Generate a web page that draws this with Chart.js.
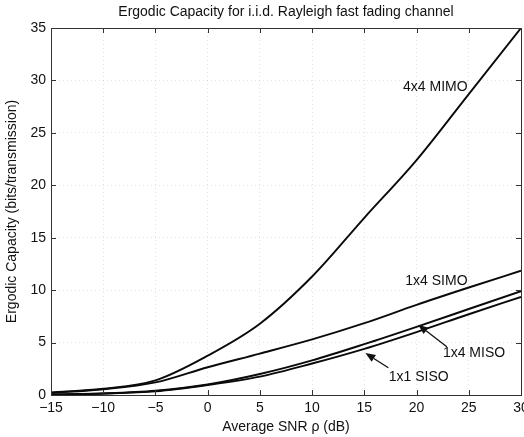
<!DOCTYPE html>
<html>
<head>
<meta charset="utf-8">
<script src="https://cdn.jsdelivr.net/npm/chart.js@4/dist/chart.umd.min.js"></script>
<style>
  html, body { margin: 0; padding: 0; background: #fff; overflow: hidden; }
  #wrap { width: 524px; height: 437px; position: relative; }
</style>
</head>
<body>
<div id="wrap"><canvas id="c" width="524" height="437"></canvas></div>
<script>
// ---- Data ----
const snrDb    = [-15, -10, -5, 0, 5, 10, 15, 20, 25, 30];
const mimo4x4  = [0.25, 0.6, 1.4, 3.75, 6.8, 11.3, 16.9, 22.4, 28.7, 35];
const simo1x4  = [0.2, 0.55, 1.2, 2.65, 3.95, 5.3, 6.85, 8.6, 10.25, 11.85];
const miso1x4  = [0.05, 0.15, 0.4, 1.0, 2.0, 3.3, 4.85, 6.5, 8.2, 9.9];
const siso1x1  = [0.05, 0.14, 0.35, 0.95, 1.75, 3.0, 4.4, 6.0, 7.7, 9.35];
const xTicks   = [-15, -10, -5, 0, 5, 10, 15, 20, 25, 30];
const yTicks   = [0, 5, 10, 15, 20, 25, 30, 35];
const titleText = 'Ergodic Capacity for i.i.d. Rayleigh fast fading channel';
const xLabel = 'Average SNR \u03C1 (dB)';
const yLabel = 'Ergodic Capacity (bits/transmission)';
// annotations: label text, label position, optional arrow (from -> tip), in data units
const notes = [
  { text: '4x4 MIMO', x: 21.8, y: 29.4 },
  { text: '1x4 SIMO', x: 21.9, y: 10.9 },
  { text: '1x4 MISO', x: 25.5, y: 4.0, from: [22.9, 4.6], to: [20.15, 6.7] },
  { text: '1x1 SISO', x: 20.2, y: 1.7, from: [17.3, 2.6], to: [15.1, 4.0] }
];

const FONT = '"Liberation Sans", Arial, Helvetica, sans-serif';
const pts = arr => snrDb.map((x, i) => ({ x, y: arr[i] }));
const fmt = v => (v < 0 ? '\u2212' + Math.abs(v) : String(v));

const ds = (label, arr) => ({
  label, data: pts(arr), showLine: true, borderColor: '#0a0a0a', borderWidth: 1.9,
  pointRadius: 0, fill: false, cubicInterpolationMode: 'monotone'
});

const framePlugin = {
  id: 'frame',
  afterDatasetsDraw(chart) {
    const { ctx, chartArea: a, scales: { x, y } } = chart;
    ctx.save();
    ctx.strokeStyle = '#333';
    ctx.lineWidth = 1;
    ctx.strokeRect(Math.round(a.left) + 0.5, Math.round(a.top) + 0.5,
                   Math.round(a.right - a.left), Math.round(a.bottom - a.top));
    const tl = 5;
    ctx.beginPath();
    xTicks.forEach(v => {
      const px = Math.round(x.getPixelForValue(v)) + 0.5;
      ctx.moveTo(px, a.bottom); ctx.lineTo(px, a.bottom - tl);
      ctx.moveTo(px, a.top); ctx.lineTo(px, a.top + tl);
    });
    yTicks.forEach(v => {
      const py = Math.round(y.getPixelForValue(v)) + 0.5;
      ctx.moveTo(a.left, py); ctx.lineTo(a.left + tl, py);
      ctx.moveTo(a.right, py); ctx.lineTo(a.right - tl, py);
    });
    ctx.stroke();

    // annotations
    ctx.fillStyle = '#111';
    ctx.font = '14px ' + FONT;
    ctx.textAlign = 'center';
    ctx.textBaseline = 'middle';
    notes.forEach(n => {
      ctx.fillText(n.text, x.getPixelForValue(n.x), y.getPixelForValue(n.y));
      if (n.from) {
        const x0 = x.getPixelForValue(n.from[0]), y0 = y.getPixelForValue(n.from[1]);
        const x1 = x.getPixelForValue(n.to[0]), y1 = y.getPixelForValue(n.to[1]);
        const ang = Math.atan2(y1 - y0, x1 - x0);
        const hl = 10, hw = 4;
        const bx = x1 - hl * Math.cos(ang), by = y1 - hl * Math.sin(ang);
        ctx.strokeStyle = '#111';
        ctx.lineWidth = 1.3;
        ctx.beginPath(); ctx.moveTo(x0, y0); ctx.lineTo(bx, by); ctx.stroke();
        ctx.beginPath();
        ctx.moveTo(x1, y1);
        ctx.lineTo(bx + hw * Math.sin(ang), by - hw * Math.cos(ang));
        ctx.lineTo(bx - hw * Math.sin(ang), by + hw * Math.cos(ang));
        ctx.closePath(); ctx.fill();
      }
    });
    ctx.restore();
  }
};

new Chart(document.getElementById('c'), {
  type: 'scatter',
  data: { datasets: [ds('4x4 MIMO', mimo4x4), ds('1x4 SIMO', simo1x4), ds('1x4 MISO', miso1x4), ds('1x1 SISO', siso1x1)] },
  options: {
    responsive: false, animation: false, devicePixelRatio: 1,
    layout: { padding: { left: 0, right: 0, top: 0, bottom: 0 } },
    plugins: {
      legend: { display: false }, tooltip: { enabled: false },
      title: { display: true, fullSize: false, text: titleText, color: '#111', font: { family: FONT, size: 14, weight: 'normal' }, padding: { top: 3.6, bottom: 7.6 } }
    },
    scales: {
      x: {
        type: 'linear', min: -15, max: 30,
        afterBuildTicks: s => { s.ticks = xTicks.map(v => ({ value: v })); },
        afterFit: s => { s.height = 42; s.paddingRight = 3; s.paddingLeft = 0; },
        ticks: { color: '#111', font: { family: FONT, size: 14 }, padding: 5, maxRotation: 0, autoSkip: false, callback: v => fmt(v) },
        grid: { color: 'rgba(0,0,0,0.10)', drawTicks: false, lineWidth: 1 },
        border: { display: false, dash: [1, 3] },
        title: { display: true, text: xLabel, color: '#111', font: { family: FONT, size: 14 }, padding: { top: 0, bottom: 1.5 } }
      },
      y: {
        type: 'linear', min: 0, max: 35,
        afterBuildTicks: s => { s.ticks = yTicks.map(v => ({ value: v })); },
        afterFit: s => { s.width = 51; },
        ticks: { color: '#111', font: { family: FONT, size: 14 }, padding: 5, autoSkip: false, callback: v => fmt(v) },
        grid: { color: 'rgba(0,0,0,0.10)', drawTicks: false, lineWidth: 1 },
        border: { display: false, dash: [1, 3] },
        title: { display: true, text: yLabel, color: '#111', font: { family: FONT, size: 14 }, padding: { top: 4, bottom: 0 } }
      }
    }
  },
  plugins: [framePlugin]
});
</script>
</body>
</html>
